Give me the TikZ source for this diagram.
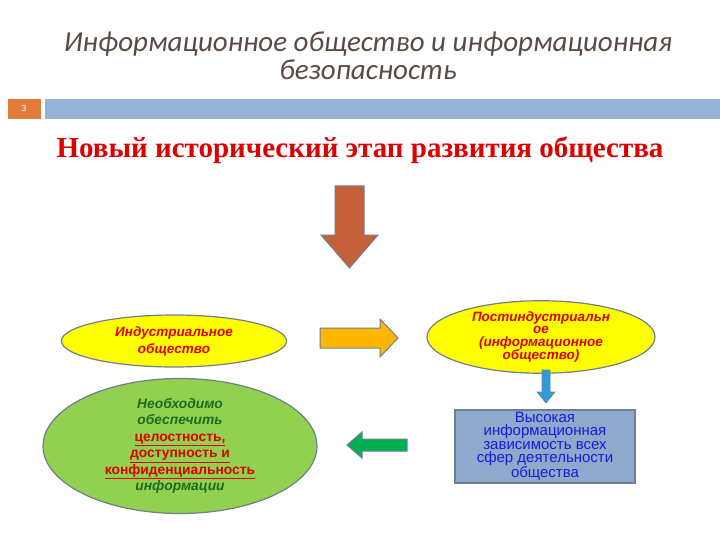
\documentclass[tikz,border=0pt]{standalone}
\usepackage{fontspec}
\setmainfont{Liberation Serif}
\setsansfont{Liberation Sans}
\newfontfamily\titlefont{Carlito}
\usetikzlibrary{shapes.geometric,positioning}
\definecolor{titlegray}{HTML}{5A4A44}
\definecolor{barblue}{HTML}{95B3D7}
\definecolor{numorange}{HTML}{E07B39}
\definecolor{headred}{HTML}{DC0000}
\definecolor{brownarrow}{HTML}{C5613A}
\definecolor{edgegray}{HTML}{6F7F8F}
\definecolor{ovalyellow}{HTML}{FFFF00}
\definecolor{ovalgreen}{HTML}{92D050}
\definecolor{darkgreentext}{HTML}{1E6B1E}
\definecolor{boxblue}{HTML}{8EA9CB}
\definecolor{bluetext}{HTML}{1A1ADC}
\definecolor{yellowarrow}{HTML}{FFB600}
\definecolor{greenarrow}{HTML}{00B050}
\definecolor{smallblue}{HTML}{2E9CDB}

\begin{document}
\begin{tikzpicture}[x=1pt, y=-1pt,
    oval/.style={ellipse, draw=edgegray, line width=1.2pt, inner sep=0pt, align=center,
        font=\sffamily\bfseries\itshape},
    infobox/.style={rectangle, draw=edgegray, line width=1.2pt, fill=boxblue, inner sep=0pt,
        align=center, text=bluetext, font=\sffamily\fontsize{15}{13.5}\selectfont},
    blockarrow/.style={draw=edgegray, line width=1pt}]
    \useasboundingbox (0,0) rectangle (720,540);
    % title
    \node[text=titlegray, align=center, font=\titlefont\itshape\fontsize{29}{28}\selectfont] (title) at (368,56)
        {Информационное общество и информационная\\безопасность};
    % number and bar
    \filldraw[fill=numorange, draw=numorange] (8,99) rectangle (40,118);
    \node[text=white, font=\sffamily\fontsize{9}{9}\selectfont] (num) at (24,108.5) {3};
    \filldraw[fill=barblue, draw=barblue] (45,99) rectangle (720,118);
    % heading
    \node[text=headred, font=\rmfamily\bfseries\fontsize{29}{29}\selectfont] (head) at (360,150)
        {Новый исторический этап развития общества};
    % big arrow down
    \filldraw[blockarrow, fill=brownarrow] (335,186) -- (364,186) -- (364,235) -- (378,235)
        -- (349.5,268) -- (321,235) -- (335,235) -- cycle;
    % ovals
    \node[oval, fill=ovalyellow, minimum width=225pt, minimum height=52pt, text=headred,
        font=\sffamily\bfseries\itshape\fontsize{13.5}{17}\selectfont] (ind) at (174,341)
        {Индустриальное\\общество};
    \node[oval, fill=ovalyellow, minimum width=228pt, minimum height=57pt, text=headred,
        font=\sffamily\bfseries\itshape\fontsize{13.5}{12.5}\selectfont] (post) at (541,337)
        {Постиндустриальн\\ое\\(информационное\\общество)};
    \node[oval, fill=ovalgreen, minimum width=274pt, minimum height=106pt,
        font=\sffamily\bfseries\itshape\fontsize{13.8}{16.5}\selectfont] (need) at (180,446)
        {\textcolor{darkgreentext}{Необходимо}\\
         \textcolor{darkgreentext}{обеспечить}\\
         \textcolor{headred}{\upshape\underline{целостность,}}\\
         \textcolor{headred}{\upshape\underline{доступность и}}\\
         \textcolor{headred}{\upshape\underline{конфиденциальность}}\\
         \textcolor{darkgreentext}{информации}};
    % box
    \node[infobox, minimum width=180pt, minimum height=73pt] (dep) at (545,446.5)
        {Высокая\\информационная\\зависимость всех\\сфер деятельности\\общества};
    % arrows
    \filldraw[blockarrow, fill=yellowarrow] (320,328) -- (380,328) -- (380,319) -- (398,338)
        -- (380,357) -- (380,348) -- (320,348) -- cycle;
    \filldraw[blockarrow, fill=greenarrow] (407,439) -- (362,439) -- (362,432) -- (347,445)
        -- (362,458) -- (362,451) -- (407,451) -- cycle;
    \filldraw[draw=edgegray, line width=0.6pt, fill=smallblue] (542,370) -- (550,370) -- (550,392)
        -- (555,392) -- (546,403) -- (537,392) -- (542,392) -- cycle;
\end{tikzpicture}
\end{document}
